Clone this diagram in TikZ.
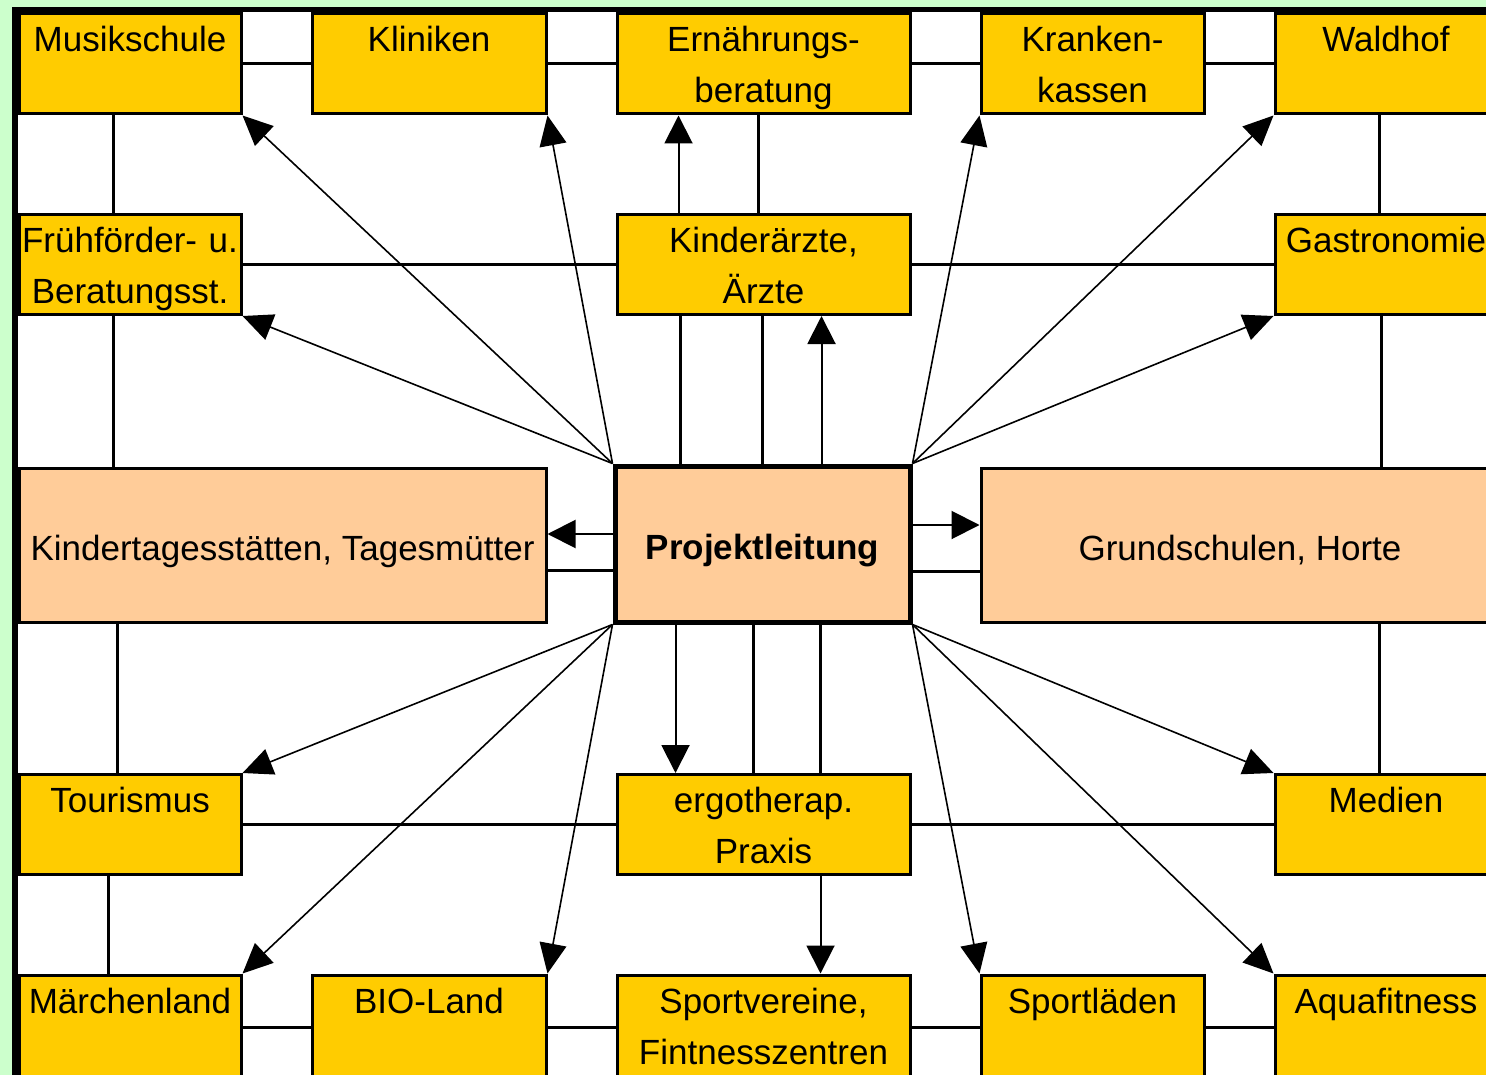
\documentclass[tikz,border=0pt]{standalone}
\usepackage{fontspec}
\setmainfont{Liberation Sans}
\usetikzlibrary{arrows.meta}
\definecolor{boxyellow}{HTML}{FFCC00}
\definecolor{boxpeach}{HTML}{FFCC99}
\definecolor{pagegreen}{HTML}{CCFFCC}
\newcommand\cellfont{\fontsize{35}{51}\selectfont}
\tikzset{
  cell/.style={draw,line width=3pt,fill=boxyellow,inner sep=0pt,text width=#1,align=center,
    text height=38pt,text depth=62pt,font=\cellfont},
  lowcell/.style={cell=#1,text depth=66pt},
  bigcell/.style={draw,line width=3pt,fill=boxpeach,inner sep=0pt,text height=32pt,text depth=2pt,font=\cellfont},
  link/.style={line width=3pt},
  arr/.style={line width=2pt,-{Triangle[length=28pt,width=28pt]}},
  darr/.style={line width=1.6pt,-{Triangle[length=30pt,width=27pt]}}
}
\begin{document}
\begin{tikzpicture}[x=1pt,y=-1pt]
  \useasboundingbox (0,0) rectangle (1486,1075);
  \fill[pagegreen] (0,0) rectangle (1486,1075);
  \fill[white] (15,9.5) rectangle (1500,1090);
  \draw[line width=5.5pt] (15,1090) -- (15,9.5) -- (1500,9.5);

  \node[cell=222pt] (musik) at (130,64) {Musikschule};
  \node[cell=234pt] (klin) at (429,64) {Kliniken};
  \node[cell=293pt] (ernae) at (763.5,64) {Ernährungs-\\beratung};
  \node[cell=223pt] (kasse) at (1092.5,64) {Kranken-\\kassen};
  \node[cell=222pt] (wald) at (1386,64) {Waldhof};

  \node[cell=222pt] (frueh) at (130,264.5) {Frühförder- u.\\Beratungsst.};
  \node[cell=293pt] (kiarzt) at (763.5,264.5) {Kinderärzte,\\Ärzte};
  \node[cell=222pt] (gastro) at (1386,264.5) {Gastronomie};

  \node[bigcell,minimum width=527pt,minimum height=154pt] (kita) at (282.5,545) {Kindertagesstätten, Tagesmütter};
  \node[bigcell,line width=5pt,minimum width=295pt,minimum height=156pt,font=\cellfont\bfseries] (proj) at (762.5,544) {Projektleitung};
  \node[bigcell,minimum width=518pt,minimum height=154pt] (grund) at (1240,545) {Grundschulen, Horte};

  \node[cell=222pt] (tour) at (130,824.5) {Tourismus};
  \node[cell=293pt] (ergo) at (763.5,824.5) {ergotherap.\\Praxis};
  \node[cell=222pt] (medien) at (1386,824.5) {Medien};

  \node[lowcell=222pt] (maerchen) at (130,1027) {Märchenland};
  \node[lowcell=234pt] (bio) at (429,1027) {BIO-Land};
  \node[lowcell=293pt] (sport) at (763.5,1027) {Sportvereine,\\Fintnesszentren};
  \node[lowcell=223pt] (sladen) at (1092.5,1027) {Sportläden};
  \node[lowcell=222pt] (aqua) at (1386,1027) {Aquafitness};

  \foreach \a/\b in {musik/klin,klin/ernae,ernae/kasse,kasse/wald,frueh/kiarzt,kiarzt/gastro,
    tour/ergo,ergo/medien,maerchen/bio,bio/sport,sport/sladen,sladen/aqua}
  \draw[link] (\a) -- (\b);

  \draw[link] ([xshift=-17pt]musik.south) -- ([xshift=-17pt]frueh.north);
  \draw[link] ([xshift=-17pt]frueh.south) -- ([xshift=-17pt]frueh.south |- kita.north);
  \draw[link] ([xshift=-13pt]tour.north) -- ([xshift=-13pt]tour.north |- kita.south);
  \draw[link] ([xshift=-22pt]tour.south) -- ([xshift=-22pt]maerchen.north);
  \draw[link] ([xshift=-7pt]wald.south) -- ([xshift=-7pt]gastro.north);
  \draw[link] ([xshift=-5pt]gastro.south) -- ([xshift=-5pt]gastro.south |- grund.north);
  \draw[link] ([xshift=-7pt]medien.north) -- ([xshift=-7pt]medien.north |- grund.south);
  \draw[link] ([xshift=-5pt]ernae.south) -- ([xshift=-5pt]kiarzt.north);
  \foreach \dx in {-83,-1}
  \draw[link] ([xshift=\dx pt]kiarzt.south) -- ([xshift=\dx pt]kiarzt.south |- proj.north);
  \foreach \dx in {-10,57}
  \draw[link] ([xshift=\dx pt]ergo.north |- proj.south) -- ([xshift=\dx pt]ergo.north);
  \draw[link] ([yshift=-26pt]proj.west) -- ([yshift=-26pt]proj.west -| kita.east);
  \draw[link] ([yshift=-27pt]proj.east) -- ([yshift=-27pt]proj.east -| grund.west);

  \draw[arr] ([xshift=-85pt]kiarzt.north) -- ([xshift=-85pt]ernae.south);
  \draw[arr] ([xshift=58pt]kiarzt.south |- proj.north) -- ([xshift=58pt]kiarzt.south);
  \draw[arr] ([xshift=-88pt]ergo.north |- proj.south) -- ([xshift=-88pt]ergo.north);
  \draw[arr] ([xshift=57pt]ergo.south) -- ([xshift=57pt]sport.north);
  \draw[arr] ([yshift=10pt]proj.west) -- ([yshift=10pt]proj.west -| kita.east);
  \draw[arr] ([yshift=19pt]proj.east) -- ([yshift=19pt]proj.east -| grund.west);

  \foreach \t in {musik,klin,frueh}
  \draw[darr] (proj.north west) -- (\t.south east);
  \foreach \t in {kasse,wald,gastro}
  \draw[darr] (proj.north east) -- (\t.south west);
  \foreach \t in {tour,maerchen,bio}
  \draw[darr] (proj.south west) -- (\t.north east);
  \foreach \t in {medien,sladen,aqua}
  \draw[darr] (proj.south east) -- (\t.north west);
\end{tikzpicture}
\end{document}
